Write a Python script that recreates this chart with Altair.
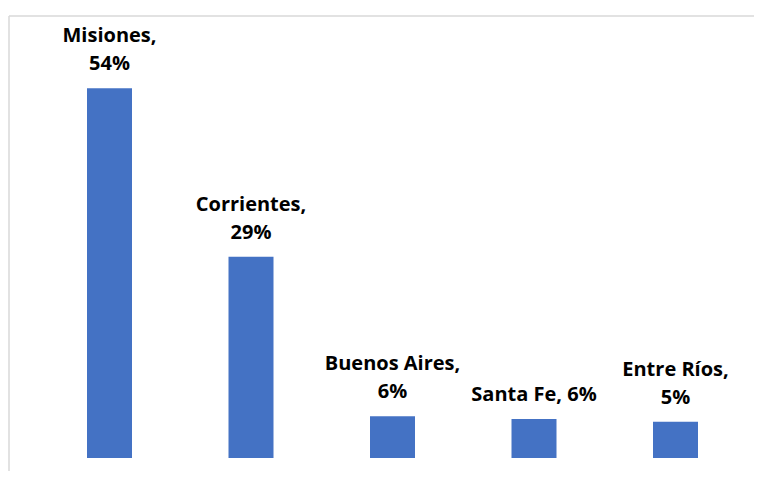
import altair as alt
import pandas as pd

provinces = ["Misiones", "Corrientes", "Buenos Aires", "Santa Fe", "Entre Ríos"]
shares = [54.0, 29.4, 6.1, 5.7, 5.3]
label_first = ["Misiones,", "Corrientes,", "Buenos Aires,", "", "Entre Ríos,"]
label_last = ["54%", "29%", "6%", "Santa Fe, 6%", "5%"]

df = pd.DataFrame({"province": provinces, "share": shares,
                   "first": label_first, "last": label_last})

W, H = 745, 442

x_enc = alt.X("province:N", sort=provinces, axis=None,
              scale=alt.Scale(range=[29.75, 737.25], paddingInner=0, paddingOuter=0))
y_enc = alt.Y("share:Q", axis=None, scale=alt.Scale(domain=[0, 64.56], nice=False, zero=True))

bars = alt.Chart(df).mark_bar(size=45, color="#4472C4").encode(x=x_enc, y=y_enc)

text_style = dict(font="Open Sans", fontWeight="bold", fontSize=20, color="#000000",
                  baseline="alphabetic", align="center")

labels_last = alt.Chart(df).mark_text(dy=-18, **text_style).encode(x=x_enc, y=y_enc, text="last:N")
labels_first = alt.Chart(df).mark_text(dy=-46, **text_style).encode(x=x_enc, y=y_enc, text="first:N")

frame_data = alt.Data(values=[{"a": 1}])
top_rule = alt.Chart(frame_data).mark_rule(color="#d9d9d9", strokeWidth=1.5, clip=False).encode(
    x=alt.value(0), x2=alt.value(W), y=alt.value(0))
left_rule = alt.Chart(frame_data).mark_rule(color="#d9d9d9", strokeWidth=1.5, clip=False).encode(
    x=alt.value(0), y=alt.value(0), y2=alt.value(H + 13))

chart = alt.layer(top_rule, left_rule, bars, labels_first, labels_last).properties(
    width=W, height=H,
    padding={"left": 1, "top": 8, "right": 0, "bottom": 13},
    autosize=alt.AutoSizeParams(type="none"),
    background="#ffffff",
).configure_view(stroke=None)

chart.save("out.html", embed_options={"renderer": "svg", "actions": False})
